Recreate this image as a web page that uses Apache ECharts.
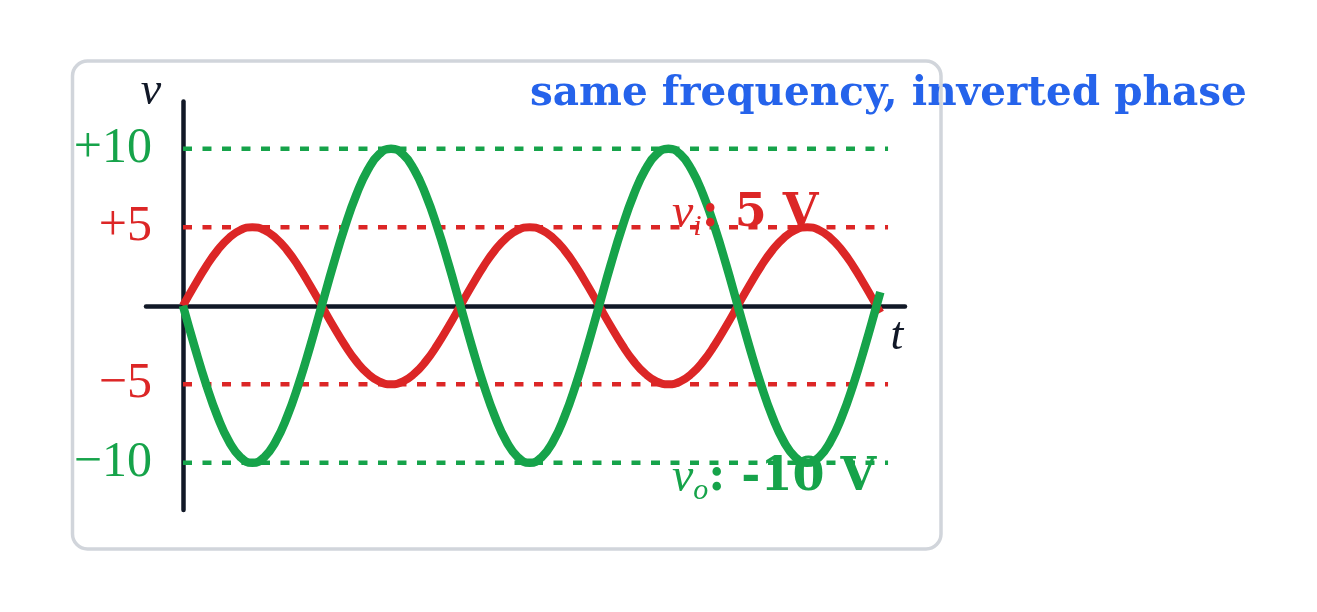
<!DOCTYPE html>
<html>
<head>
<meta charset="utf-8">
<title>same frequency, inverted phase</title>
<script src="https://cdn.jsdelivr.net/npm/echarts@6/dist/echarts.min.js"></script>
<style>
  html, body { margin: 0; padding: 0; background: #fff; }
  #chart { width: 1317px; height: 612px; }
</style>
</head>
<body>
<div id="chart"></div>
<script>
// phase in degrees, every 15 deg (last point just past 2.5 cycles)
const phase = [0, 15, 30, 45, 60, 75, 90, 105, 120, 135, 150, 165,
  180, 195, 210, 225, 240, 255, 270, 285, 300, 315, 330, 345,
  360, 375, 390, 405, 420, 435, 450, 465, 480, 495, 510, 525,
  540, 555, 570, 585, 600, 615, 630, 645, 660, 675, 690, 705,
  720, 735, 750, 765, 780, 795, 810, 825, 840, 855, 870, 885,
  900, 905];
// input v_i (red), peaks at +/-5 V
const vi = [0, 1.29, 2.5, 3.54, 4.33, 4.83, 5, 4.83, 4.33, 3.54, 2.5, 1.29,
  0, -1.29, -2.5, -3.54, -4.33, -4.83, -5, -4.83, -4.33, -3.54, -2.5, -1.29,
  0, 1.29, 2.5, 3.54, 4.33, 4.83, 5, 4.83, 4.33, 3.54, 2.5, 1.29,
  0, -1.29, -2.5, -3.54, -4.33, -4.83, -5, -4.83, -4.33, -3.54, -2.5, -1.29,
  0, 1.29, 2.5, 3.54, 4.33, 4.83, 5, 4.83, 4.33, 3.54, 2.5, 1.29,
  0, -0.44];
// output v_o (green), peaks at +/-10 V, opposite sign
const vo = [0, -2.59, -5, -7.07, -8.66, -9.66, -10, -9.66, -8.66, -7.07, -5, -2.59,
  0, 2.59, 5, 7.07, 8.66, 9.66, 10, 9.66, 8.66, 7.07, 5, 2.59,
  0, -2.59, -5, -7.07, -8.66, -9.66, -10, -9.66, -8.66, -7.07, -5, -2.59,
  0, 2.59, 5, 7.07, 8.66, 9.66, 10, 9.66, 8.66, 7.07, 5, 2.59,
  0, -2.59, -5, -7.07, -8.66, -9.66, -10, -9.66, -8.66, -7.07, -5, -2.59,
  0, 0.87];

// dashed guide levels and the tick labels on the v axis
const guideLevels = [10, 5, -5, -10];
const guideSpan = [0, 915];
const yTicks = [-10, -5, 5, 10];
const yTickLabels = ['\u221210', '\u22125', '+5', '+10'];

const RED = '#dc2626';
const GREEN = '#16a34a';
const INK = '#111827';
const BLUE = '#2563eb';
const SERIF = '"Liberation Serif", "DejaVu Serif", serif';
const BOLD = '"DejaVu Serif", "Liberation Serif", serif';

const chart = echarts.init(document.getElementById('chart'));

const toPairs = (xs, ys) => xs.map((x, i) => [x, ys[i]]);

// +/-10 belongs to the output, +/-5 to the input
const levelColor = v => (Math.abs(v) === 10 ? GREEN : RED);

const guideSeries = guideLevels.map(level => ({
  type: 'line',
  data: [[guideSpan[0], level], [guideSpan[1], level]],
  symbol: 'none',
  silent: true,
  z: 1,
  lineStyle: { color: levelColor(level), width: 4.5, type: [9, 10.5] }
}));

const labelRich = (color) => ({
  it: { fontFamily: SERIF, fontStyle: 'italic', fontSize: 48, lineHeight: 56, fill: color },
  sub: { fontFamily: SERIF, fontStyle: 'italic', fontSize: 30, lineHeight: 26, verticalAlign: 'bottom', fill: color },
  b: { fontFamily: BOLD, fontWeight: 'bold', fontSize: 46, lineHeight: 56, fill: color }
});

const option = {
  animation: false,
  backgroundColor: '#fff',
  grid: { left: 146, right: 412, top: 101.5, bottom: 102, containLabel: false },
  xAxis: {
    type: 'value',
    min: -48,
    max: 937,
    axisLine: { onZero: true, lineStyle: { color: INK, width: 4.5 } },
    axisTick: { show: false },
    axisLabel: { show: false },
    splitLine: { show: false }
  },
  yAxis: {
    type: 'value',
    min: -13,
    max: 13,
    axisLine: { show: true, onZero: true, lineStyle: { color: INK, width: 4.5 } },
    axisTick: { show: false },
    splitLine: { show: false },
    axisLabel: {
      customValues: yTicks,
      margin: -6,
      fontFamily: SERIF,
      fontSize: 50,
      formatter: v => {
        const i = yTicks.indexOf(v);
        return '{' + (Math.abs(v) === 10 ? 'g' : 'r') + '|' + yTickLabels[i] + '}';
      },
      rich: {
        g: { color: GREEN, fontFamily: SERIF, fontSize: 50 },
        r: { color: RED, fontFamily: SERIF, fontSize: 50 }
      }
    }
  },
  series: guideSeries.concat([
    {
      name: 'v_i',
      type: 'line',
      data: toPairs(phase, vi),
      smooth: true,
      symbol: 'none',
      z: 3,
      lineStyle: { color: RED, width: 8 }
    },
    {
      name: 'v_o',
      type: 'line',
      data: toPairs(phase, vo),
      smooth: true,
      symbol: 'none',
      z: 4,
      lineStyle: { color: GREEN, width: 8.5 }
    }
  ]),
  graphic: [
    {
      type: 'text', x: 530, y: 94, z: 5,
      style: {
        text: 'same frequency, inverted phase',
        font: 'bold 40.5px ' + BOLD, fill: BLUE,
        align: 'left', verticalAlign: 'middle'
      }
    },
    {
      type: 'text', x: 151, y: 92, z: 5,
      style: {
        text: 'v', font: 'italic 46px ' + SERIF, fill: INK,
        align: 'center', verticalAlign: 'middle'
      }
    },
    {
      type: 'text', x: 897, y: 337, z: 5,
      style: {
        text: 't', font: 'italic 46px ' + SERIF, fill: INK,
        align: 'center', verticalAlign: 'middle'
      }
    },
    {
      type: 'text', x: 672, y: 214, z: 10,
      style: {
        text: '{it|v}{sub|i}{b|: 5 V}',
        fill: RED, align: 'left', verticalAlign: 'middle',
        rich: labelRich(RED)
      }
    },
    {
      type: 'text', x: 672, y: 478, z: 10,
      style: {
        text: '{it|v}{sub|o}{b|: -10 V}',
        fill: GREEN, align: 'left', verticalAlign: 'middle',
        rich: labelRich(GREEN)
      }
    },
    {
      type: 'rect', z: 6,
      shape: { x: 72.5, y: 61, width: 868.5, height: 488, r: 15 },
      style: { fill: 'none', stroke: '#d1d5db', lineWidth: 3.5 }
    }
  ]
};

chart.setOption(option);
window.addEventListener('resize', () => chart.resize());
</script>
</body>
</html>
